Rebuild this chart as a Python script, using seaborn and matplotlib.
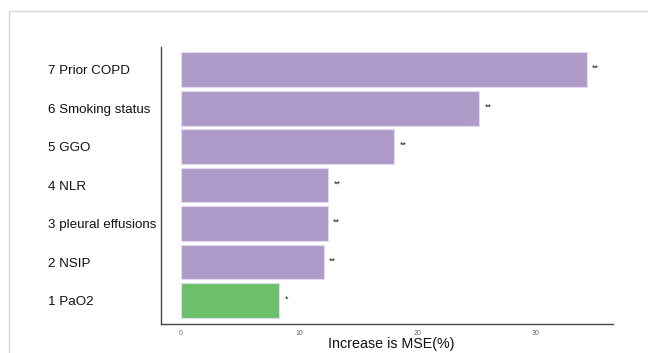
import matplotlib
matplotlib.use("Agg")
import matplotlib.pyplot as plt
from matplotlib.patches import Rectangle
import seaborn as sns
import pandas as pd

labels = ["7 Prior COPD", "6 Smoking status", "5 GGO", "4 NLR",
          "3 pleural effusions", "2 NSIP", "1 PaO2"]
values = [34.3, 25.2, 18.0, 12.45, 12.4, 12.05, 8.3]
groups = ["a", "a", "a", "a", "a", "a", "b"]
stars = ["**", "**", "**", "**", "**", "**", "*"]
xticks = [0, 10, 20, 30]
palette = {"a": "#AF9BCA", "b": "#6CC06A"}

df = pd.DataFrame({"label": labels, "value": values, "group": groups})

sns.set_theme(style="white")
plt.rcParams["font.family"] = ["Liberation Sans", "DejaVu Sans"]

fig = plt.figure(figsize=(6.48, 3.53), dpi=100)
ax = fig.add_axes([161/648, 1-324.3/353, (613-161)/648, (324.3-46.7)/353])

sns.barplot(data=df, x="value", y="label", hue="group", palette=palette,
            dodge=False, width=0.9, legend=False, ax=ax, saturation=1,
            edgecolor="#E4DAEE", linewidth=0.8, order=labels)

for i, (v, s) in enumerate(zip(values, stars)):
    ax.text(v + 0.45, i - 0.03, s, ha="left", va="center", fontsize=6.5, color="#222222")

ax.set_xlim(-1.7, 36.5)
ax.set_ylim(6.62, -0.6)
ax.set_xticks(xticks)
ax.set_xticklabels([str(t) for t in xticks], fontsize=5, color="#666666")
ax.set_ylabel("")
ax.set_xlabel("Increase is MSE(%)", fontsize=10.3, color="#111111")
ax.xaxis.set_label_coords((391.7-161)/(613-161), -(344-324.3)/277.6)
ax.xaxis.label.set_va("center")

for side in ["top", "right"]:
    ax.spines[side].set_visible(False)
for side in ["left", "bottom"]:
    ax.spines[side].set_color("#444444")
    ax.spines[side].set_linewidth(1.0)

ax.tick_params(axis="x", length=1.5, width=0.5, color="#888888", pad=2.5)
ax.tick_params(axis="y", length=2, width=0.6, color="#444444", pad=79,
               labelsize=9.6, labelcolor="#111111")
for lab in ax.get_yticklabels():
    lab.set_ha("left")

fig.patches.append(Rectangle((9/648, -0.1), 1.2, 1 - 11/353 + 0.1,
                             transform=fig.transFigure, fill=False,
                             edgecolor="#D6D6D6", linewidth=1.0))

fig.savefig("out.png", dpi=100)
